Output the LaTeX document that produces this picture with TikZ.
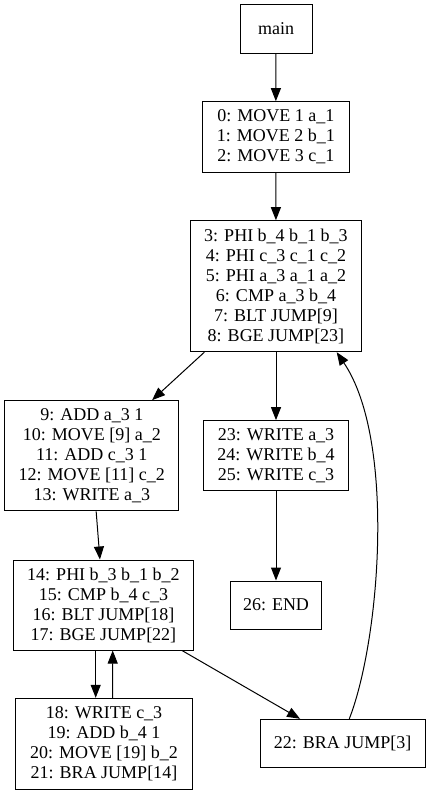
\documentclass[tikz,border=0pt]{standalone}
\usepackage{fontspec}
\setmainfont{Liberation Serif}
\usetikzlibrary{arrows.meta}
\begin{document}
\begin{tikzpicture}[x=1bp,y=-1bp,
  blk/.style={draw=black,line width=1bp,inner sep=0pt,align=center,
    font=\fontsize{18bp}{20bp}\selectfont},
  edge/.style={draw=black,line width=1bp,-{Triangle[length=13bp,width=10bp]}}]
\useasboundingbox (0,0) rectangle (429,795);
\node[blk,minimum width=72bp,minimum height=48bp] (main) at (276,29) {main};
\node[blk,minimum width=147bp,minimum height=70.6bp] (b0) at (275.8,137) {0: MOVE 1 a\_1\\1: MOVE 2 b\_1\\2: MOVE 3 c\_1};
\node[blk,minimum width=170.6bp,minimum height=131bp] (b3) at (276,286.2) {3: PHI b\_4 b\_1 b\_3\\4: PHI c\_3 c\_1 c\_2\\5: PHI a\_3 a\_1 a\_2\\6: CMP a\_3 b\_4\\7: BLT JUMP[9]\\8: BGE JUMP[23]};
\node[blk,minimum width=174.3bp,minimum height=110.3bp] (b9) at (91.8,455.8) {9: ADD a\_3 1\\10: MOVE [9] a\_2\\11: ADD c\_3 1\\12: MOVE [11] c\_2\\13: WRITE a\_3};
\node[blk,minimum width=144.6bp,minimum height=70.3bp] (b23) at (276,455.8) {23: WRITE a\_3\\24: WRITE b\_4\\25: WRITE c\_3};
\node[blk,minimum width=179.6bp,minimum height=90bp] (b14) at (103.5,605) {14: PHI b\_3 b\_1 b\_2\\15: CMP b\_4 c\_3\\16: BLT JUMP[18]\\17: BGE JUMP[22]};
\node[blk,minimum width=91.4bp,minimum height=48bp] (b26) at (276,605) {26: END};
\node[blk,minimum width=176bp,minimum height=91bp] (b18) at (104,743.8) {18: WRITE c\_3\\19: ADD b\_4 1\\20: MOVE [19] b\_2\\21: BRA JUMP[14]};
\node[blk,minimum width=164.7bp,minimum height=48.4bp] (b22) at (342.7,743.5) {22: BRA JUMP[3]};
\draw[edge] (main) -- (b0);
\draw[edge] (b0) -- (b3);
\draw[edge] (b3) -- (b9);
\draw[edge] (b3) -- (b23);
\draw[edge] (b9) -- (b14);
\draw[edge] (b23) -- (b26);
\draw[edge] ([xshift=-7.8bp]b14.south) -- ([xshift=-8.3bp]b18.north);
\draw[edge] ([xshift=8.7bp]b18.north) -- ([xshift=9.2bp]b14.south);
\draw[edge] (b14) -- (b22);
\draw[edge] ([xshift=6.6bp]b22.north) .. controls (380,640) and (396,440) .. ([xshift=60.7bp]b3.south);
\end{tikzpicture}
\end{document}
